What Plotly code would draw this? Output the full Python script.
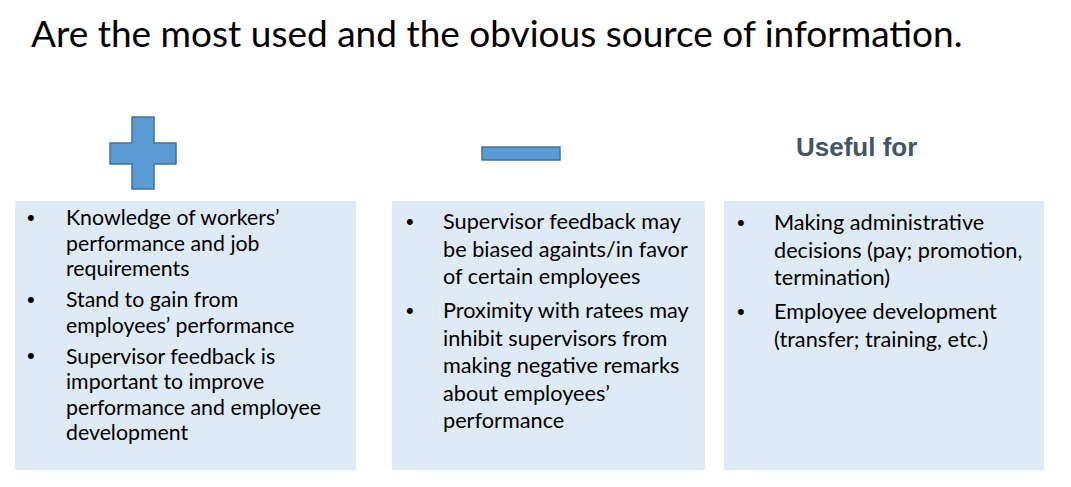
import plotly.graph_objects as go

# Textos de la diapositiva
titulo = "Are the most used and the obvious source of information."
encabezado_util = "Useful for"

ventajas = [
    ["Knowledge of workers’", "performance and job", "requirements"],
    ["Stand to gain from", "employees’ performance"],
    ["Supervisor feedback is", "important to improve", "performance and employee", "development"],
]
desventajas = [
    ["Supervisor feedback may", "be biased againts/in favor", "of certain employees"],
    ["Proximity with ratees may", "inhibit supervisors from", "making negative remarks",
     "about employees’", "performance"],
]
usos = [
    ["Making administrative", "decisions (pay; promotion,", "termination)"],
    ["Employee development", "(transfer; training, etc.)"],
]

W, H = 1071, 487
M = 8  # margen por defecto del <body> en la página
FUENTE = "Lato"
AZUL = "#5B9BD5"
BORDE = "#41719C"
CAJA = "#DEEAF6"

fig = go.Figure()
shapes = []
anns = []

# Titulo
anns.append(dict(x=29, y=32, text=titulo, showarrow=False, xanchor="left", yanchor="middle",
                 font=dict(family=FUENTE, size=37, color="black")))

# Signo +
shapes.append(dict(type="path",
                   path="M132,117 L154,117 L154,143 L176,143 L176,164 L154,164 L154,189 "
                        "L132,189 L132,164 L110,164 L110,143 L132,143 Z",
                   fillcolor=AZUL, line=dict(color=BORDE, width=1.5)))
# Signo -
shapes.append(dict(type="rect", x0=482, x1=560, y0=147, y1=160,
                   fillcolor=AZUL, line=dict(color=BORDE, width=1.5)))
# Encabezado "Useful for"
anns.append(dict(x=856, y=147, text="<b>" + encabezado_util + "</b>", showarrow=False,
                 xanchor="center", yanchor="middle",
                 font=dict(family="Liberation Sans", size=26, color="#44546A")))

# Cajas con viñetas
columnas = [
    (ventajas, 15, 356, 31, 64, 217, 25.5, 31, 21.3),
    (desventajas, 392, 705, 410, 441, 221, 27.5, 34, 21.7),
    (usos, 724, 1044, 741, 772, 222, 27.5, 34, 21.7),
]
for items, x0, x1, xb, xt, y_ini, paso, paso_item, tam in columnas:
    shapes.append(dict(type="rect", x0=x0, x1=x1, y0=201, y1=470,
                       fillcolor=CAJA, line=dict(width=0), layer="below"))
    y = y_ini
    for item in items:
        anns.append(dict(x=xb, y=y, text="•", showarrow=False, xanchor="center", yanchor="middle",
                         font=dict(family="Liberation Sans", size=22, color="black")))
        for k, linea in enumerate(item):
            anns.append(dict(x=xt, y=y + k * paso, text=linea, showarrow=False,
                             xanchor="left", yanchor="middle",
                             font=dict(family=FUENTE, size=tam, color="black")))
        y += (len(item) - 1) * paso + paso_item

fig.update_layout(
    width=W - 2 * M, height=H - 2 * M,
    margin=dict(l=0, r=0, t=0, b=0),
    paper_bgcolor="white", plot_bgcolor="white",
    xaxis=dict(range=[M, W - M], visible=False, fixedrange=True),
    yaxis=dict(range=[H - M, M], visible=False, fixedrange=True),
    shapes=shapes, annotations=anns, showlegend=False,
)

fig.write_html("out.html")
